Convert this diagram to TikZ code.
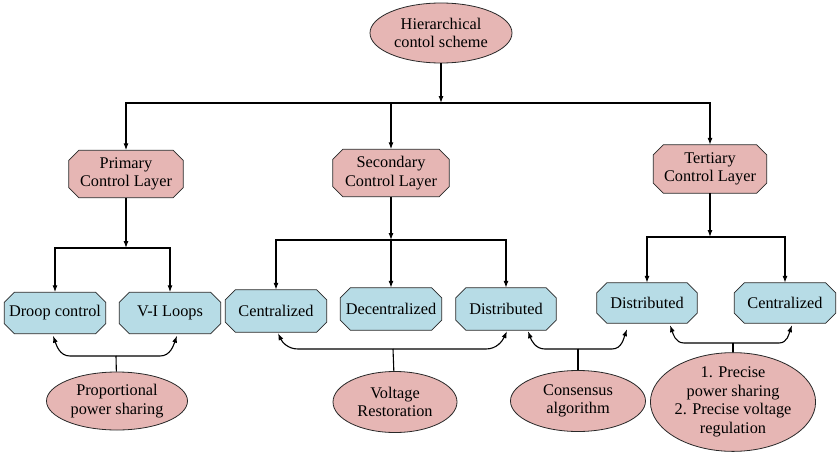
\documentclass[tikz,border=0pt]{standalone}
\usepackage{fontspec}
\setmainfont{Liberation Serif}
\usetikzlibrary{shapes.geometric,arrows.meta,calc,backgrounds}
\definecolor{pinkf}{RGB}{230,182,180}
\definecolor{bluef}{RGB}{183,220,230}
\definecolor{edge}{RGB}{40,40,40}
\newcommand\octfill[2]{%
  \path[draw=edge,fill=#2,line width=0.8pt]
    ($(#1.north west)+(10,0)$) -- ($(#1.north east)+(-10,0)$) --
    ($(#1.north east)+(0,10)$) -- ($(#1.south east)+(0,-10)$) --
    ($(#1.south east)+(-10,0)$) -- ($(#1.south west)+(10,0)$) --
    ($(#1.south west)+(0,-10)$) -- ($(#1.north west)+(0,10)$) -- cycle;}
\begin{document}
\begin{tikzpicture}[x=1pt,y=-1pt,
  font=\fontsize{16.3}{18.5}\selectfont,
  oval/.style={ellipse,draw=edge,fill=pinkf,inner sep=0pt,align=center,line width=0.8pt},
  octo/.style={rectangle,inner sep=0pt,align=center},
  conn/.style={line width=1.1pt,draw=black},
  arr/.style={conn,-{Latex[length=7pt,width=5pt]}}]
\useasboundingbox (0,0) rectangle (837,452);

\node[oval,minimum width=142pt,minimum height=60pt] (top) at (441,33) {Hierarchical\\contol scheme};

\node[octo,minimum width=114pt,minimum height=47pt] (pri) at (126,174) {Primary\\Control Layer};
\node[octo,minimum width=116pt,minimum height=47pt] (sec) at (391,173) {Secondary\\Control Layer};
\node[octo,minimum width=113pt,minimum height=48pt] (ter) at (710,169) {Tertiary\\Control Layer};

\node[octo,minimum width=101pt,minimum height=41pt] (droop) at (55,313) {Droop control};
\node[octo,minimum width=101pt,minimum height=41pt] (vi) at (170,313) {V-I Loops};
\node[octo,minimum width=101pt,minimum height=42pt] (cen) at (276,311) {Centralized};
\node[octo,minimum width=101pt,minimum height=42pt] (dec) at (391,309) {Decentralized};
\node[octo,minimum width=100pt,minimum height=42pt] (dis) at (506,309) {Distributed};
\node[octo,minimum width=100pt,minimum height=40pt] (tdis) at (647,303) {Distributed};
\node[octo,minimum width=101pt,minimum height=40pt] (tcen) at (785,303) {Centralized};

\begin{scope}[on background layer]
  \octfill{pri}{pinkf}
  \octfill{sec}{pinkf}
  \octfill{ter}{pinkf}
  \octfill{droop}{bluef}
  \octfill{vi}{bluef}
  \octfill{cen}{bluef}
  \octfill{dec}{bluef}
  \octfill{dis}{bluef}
  \octfill{tdis}{bluef}
  \octfill{tcen}{bluef}
\end{scope}

\node[oval,minimum width=141pt,minimum height=58pt] (pps) at (117,401) {Proportional\\power sharing};
\node[oval,minimum width=124pt,minimum height=61pt] (vr) at (395,402) {Voltage\\Restoration};
\node[oval,minimum width=135pt,minimum height=61pt] (ca) at (578,401) {Consensus\\algorithm};
\node[oval,minimum width=155pt,minimum height=87pt] (pr) at (733,402) {1. Precise\\power sharing\\2. Precise voltage\\regulation};

% top tree
\coordinate (tj) at (441,103);
\draw[arr] (top) -- (tj);
\draw[arr] (tj) -| (pri.north);
\draw[arr] (tj) -| (sec.north);
\draw[arr] (tj) -| (ter.north);

% primary
\coordinate (pj) at (126,248);
\draw[arr] (pri) -- (pj);
\draw[arr] (pj) -| (droop.north);
\draw[arr] (pj) -| (vi.north);

% secondary
\coordinate (sj) at (391,240);
\draw[arr] (sec) -- (sj);
\draw[arr] (sj) -| (cen.north);
\draw[arr] (sj) -| (dec.north);
\draw[arr] (sj) -| (dis.north);

% tertiary
\coordinate (rj) at (710,237);
\draw[arr] (ter) -- (rj);
\draw[arr] (rj) -| (tdis.north);
\draw[arr] (rj) -| (tcen.north);

% bottom brackets
\coordinate (pb) at (116,356);
\coordinate (pbl) at (70,356);
\coordinate (pbr) at (160,356);
\draw[conn] (pps) -- (pb);
\draw[arr] (pb) -- (pbl) to[out=180,in=-70] ($(droop.south)+(-2,2)$);
\draw[arr] (pb) -- (pbr) to[out=0,in=-110] ($(vi.south)+(7,2)$);

\coordinate (vb) at (393,349);
\coordinate (vbl) at (298,349);
\coordinate (vbr) at (486,349);
\draw[conn] (vr) -- (vb);
\draw[arr] (vb) -- (vbl) to[out=180,in=-65] ($(cen.south)+(2,1)$);
\draw[arr] (vb) -- (vbr) to[out=0,in=-115] ($(dis.south)+(1,1)$);

\coordinate (cb) at (578,349);
\coordinate (cbl) at (545,349);
\coordinate (cbr) at (612,349);
\draw[conn] (ca) -- (cb);
\draw[arr] (cb) -- (cbl) to[out=180,in=-70] ($(dis.south)+(22,1)$);
\draw[arr] (cb) -- (cbr) to[out=0,in=-110] ($(tdis.south)+(-20,6)$);

\coordinate (rb) at (733,343);
\coordinate (rbl) at (684,343);
\coordinate (rbr) at (779,343);
\draw[conn] (pr) -- (rb);
\draw[arr] (rb) -- (rbl) to[out=180,in=-70] ($(tdis.south)+(23,2)$);
\draw[arr] (rb) -- (rbr) to[out=0,in=-110] ($(tcen.south)+(7,2)$);
\end{tikzpicture}
\end{document}
